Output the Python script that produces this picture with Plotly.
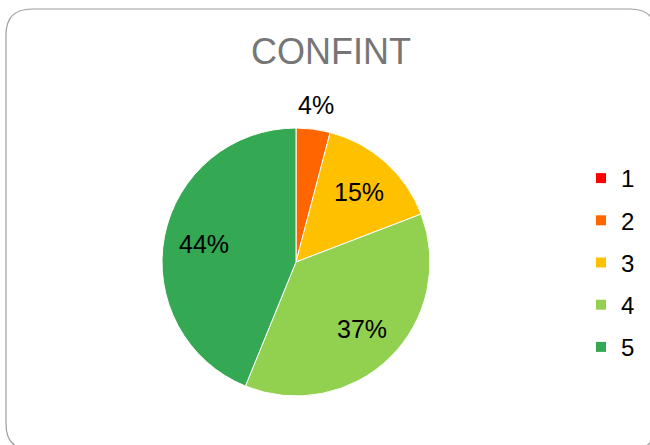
import math
import plotly.graph_objects as go

# Données
categories = ["1", "2", "3", "4", "5"]
counts = [0, 3, 11, 27, 32]
slice_colors = ["#FF0000", "#FF6600", "#FFC000", "#92D050", "#35A853"]
label_outside = [False, True, False, False, False]

W, H = 650, 445
total = sum(counts)
labels_pct = [f"{round(v / total * 100)}%" if v else "" for v in counts]


def px(x):
    return x / W


def py(y):
    return 1 - y / H


fig = go.Figure()

# camembert : centre ~ (296, 262), rayon ~ 134 px
cx, cy, r = 296, 262, 134
fig.add_trace(go.Pie(
    labels=categories,
    values=counts,
    textinfo="none",
    marker=dict(colors=slice_colors, line=dict(color="#FFFFFF", width=1)),
    sort=False,
    direction="clockwise",
    rotation=0,
    showlegend=False,
    hoverinfo="label+percent",
    domain=dict(x=[px(cx - r), px(cx + r)], y=[py(cy + r), py(cy - r)]),
))

# étiquettes de pourcentage placées comme dans Excel (milieu de chaque part)
annotations = []
cum = 0
for v, lab, out in zip(counts, labels_pct, label_outside):
    mid = (cum + v / 2) / total * 2 * math.pi
    cum += v
    if not lab:
        continue
    rr = r * (1.18 if out else 0.7)
    annotations.append(dict(
        x=px(cx + rr * math.sin(mid)), y=py(cy - rr * math.cos(mid)),
        xref="paper", yref="paper", text=lab, showarrow=False,
        xanchor="center", yanchor="middle",
        font=dict(size=25, color="#000000"),
    ))

# légende : une entrée par catégorie (groupes séparés pour l'espacement)
for lab, col in zip(categories, slice_colors):
    fig.add_trace(go.Scatter(
        x=[None], y=[None], mode="markers", name=lab, legendgroup=lab,
        marker=dict(symbol="square", size=10, color=col),
    ))

# cadre arrondi façon Excel (coupé à droite et en bas)
x0, x1, y0, y1, rad = 6, 656, 9, 450, 26
path = (
    f"M {px(x0 + rad)} {py(y0)} L {px(x1 - rad)} {py(y0)} "
    f"Q {px(x1)} {py(y0)} {px(x1)} {py(y0 + rad)} "
    f"L {px(x1)} {py(y1 - rad)} Q {px(x1)} {py(y1)} {px(x1 - rad)} {py(y1)} "
    f"L {px(x0 + rad)} {py(y1)} Q {px(x0)} {py(y1)} {px(x0)} {py(y1 - rad)} "
    f"L {px(x0)} {py(y0 + rad)} Q {px(x0)} {py(y0)} {px(x0 + rad)} {py(y0)} Z"
)

fig.update_layout(
    width=W,
    height=H,
    margin=dict(l=0, r=0, t=0, b=0),
    paper_bgcolor="#FFFFFF",
    plot_bgcolor="#FFFFFF",
    font=dict(family="Liberation Sans, Arial, sans-serif", color="#000000"),
    title=dict(
        text="CONFINT", x=px(331), xanchor="center", y=py(51), yanchor="middle",
        font=dict(size=36, color="#767676"),
    ),
    xaxis=dict(visible=False),
    yaxis=dict(visible=False),
    showlegend=True,
    legend=dict(
        x=px(581), xanchor="left", y=py(156), yanchor="top",
        font=dict(size=24, color="#000000"),
        tracegroupgap=8, bgcolor="rgba(0,0,0,0)",
        itemclick=False, itemdoubleclick=False,
    ),
    annotations=annotations,
    shapes=[dict(type="path", path=path, xref="paper", yref="paper",
                 line=dict(color="#9E9E9E", width=1.2), layer="above")],
)

# la page html a une marge de 8 px par défaut : on la retire
fig.write_html(
    "out.html",
    config={"displayModeBar": False},
    post_script="document.body.style.margin='0';",
)
